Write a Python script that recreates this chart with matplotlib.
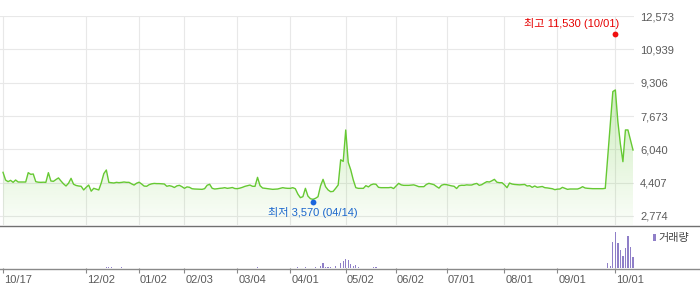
import numpy as np
import matplotlib
matplotlib.use('Agg')
import matplotlib.pyplot as plt
import matplotlib.colors as mcolors
import matplotlib.transforms as mtransforms
from matplotlib.patches import Rectangle, Polygon
from matplotlib.lines import Line2D

plt.rcParams['font.family'] = ['Liberation Sans', 'Noto Sans CJK KR', 'DejaVu Sans']

# ---- data (trading-day index 0 = 10/17) ----
price = [
    4913, 4538, 4456, 4521, 4423, 4538, 4440, 4440, 4440, 4440,
    4897, 4815, 4832, 4456, 4430, 4423, 4430, 4423, 4897, 4489,
    4472, 4560, 4640, 4489, 4350, 4244, 4380, 4619, 4330, 4270,
    4244, 4230, 4050, 4180, 4290, 3990, 4130, 4090, 4050, 4400,
    4850, 5028, 4420, 4407, 4391, 4423, 4407, 4420, 4440, 4423,
    4423, 4350, 4290, 4380, 4430, 4342, 4240, 4230, 4310, 4350,
    4370, 4360, 4360, 4350, 4342, 4230, 4260, 4230, 4170, 4250,
    4276, 4211, 4130, 4200, 4180, 4110, 4097, 4090, 4080, 4080,
    4113, 4280, 4330, 4130, 4097, 4110, 4129, 4140, 4162, 4129,
    4146, 4170, 4120, 4113, 4140, 4178, 4227, 4260, 4290, 4230,
    4227, 4668, 4260, 4146, 4129, 4113, 4097, 4080, 4090, 4097,
    4129, 4162, 4140, 4129, 4129, 4162, 4110, 3850, 3672, 3721,
    4130, 3750, 3620, 3591, 3639, 3720, 4250, 4570, 4210, 4050,
    3965, 3980, 4130, 4293, 5530, 5450, 6988, 5400, 5030, 4540,
    4162, 4129, 4129, 4129, 4260, 4200, 4300, 4342, 4330, 4178,
    4162, 4162, 4162, 4162, 4178, 4120, 4250, 4374, 4300, 4276,
    4276, 4276, 4290, 4300, 4260, 4211, 4211, 4211, 4320, 4374,
    4342, 4310, 4220, 4140, 4280, 4320, 4310, 4280, 4250, 4230,
    4120, 4260, 4280, 4276, 4300, 4290, 4293, 4340, 4370, 4276,
    4310, 4390, 4456, 4440, 4500, 4570, 4430, 4407, 4407, 4300,
    4162, 4390, 4340, 4320, 4309, 4300, 4310, 4320, 4244, 4260,
    4178, 4244, 4180, 4200, 4220, 4162, 4150, 4129, 4110, 4064,
    4090, 4097, 4178, 4130, 4080, 4097, 4097, 4097, 4097, 4140,
    4211, 4146, 4130, 4120, 4113, 4113, 4113, 4113, 4113, 4129,
    5700, 7300, 8870, 8950, 7400, 6300, 5435, 6990, 6990, 6500,
    6007,
]

tick_labels = ['10/17', '12/02', '01/02', '02/03', '03/04', '04/01',
               '05/02', '06/02', '07/01', '08/01', '09/01', '10/01']
tick_days = [0, 33, 54, 72, 93, 114, 136, 156, 176, 199, 220, 243]

y_ticks = [2774, 4407, 6040, 7673, 9306, 10939, 12573]
y_tick_labels = ['2,774', '4,407', '6,040', '7,673', '9,306', '10,939', '12,573']

high_day, high_val, high_label = 243, 11530, '최고 11,530 (10/01)'
low_day, low_val, low_label = 123, 3570, '최저 3,570 (04/14)'

vol_days = [41, 42, 43, 47, 101, 117, 120, 124, 126, 127, 128, 129, 130, 132,
            134, 135, 136, 137, 138, 139, 140, 141, 147, 148,
            240, 241, 242, 243, 244, 245, 246, 247, 248, 249, 250]
vol_vals = [3, 3, 3, 3, 2, 2, 2, 3, 5, 14, 4, 3, 3, 5,
            15, 22, 27, 25, 12, 7, 9, 4, 3, 3,
            15, 7, 79, 109, 75, 55, 37, 60, 97, 65, 33]
vol_legend = '거래량'

# ---- style ----
LINE = '#66c933'
GRID = '#e8e8e8'
VOL = '#8f7fc8'
TXT = '#5a5a5a'

W, H = 700, 289
fig = plt.figure(figsize=(W / 100, H / 100), dpi=100)


def fx(px):
    return px / W


def fy(py):
    return 1 - py / H


days = np.arange(len(price))
xmin, xmax = -1.2, 250.4
ymin, ymax = 2333, 12573

ax = fig.add_axes([0, fy(225), fx(634), (225 - 16) / H])
axv = fig.add_axes([0, fy(268), fx(634), (268 - 226) / H])

# gradient fill under line
rgb = mcolors.to_rgb(LINE)
grad = np.zeros((256, 1, 4))
grad[..., 0], grad[..., 1], grad[..., 2] = rgb
grad[:, 0, 3] = np.linspace(0.03, 0.32, 256)
im = ax.imshow(grad, extent=[xmin, xmax, ymin, max(price)], origin='lower',
               aspect='auto', zorder=1, interpolation='bilinear')
poly = Polygon(np.column_stack([np.r_[days[0], days, days[-1]],
                                np.r_[ymin, price, ymin]]),
               closed=True, facecolor='none', edgecolor='none')
ax.add_patch(poly)
im.set_clip_path(poly)

ax.plot(days, price, color=LINE, lw=1.0, zorder=3, solid_joinstyle='round')

ax.set_xlim(xmin, xmax)
ax.set_ylim(ymin, ymax)
ax.set_xticks(tick_days)
ax.set_yticks(y_ticks)
ax.set_yticklabels(y_tick_labels)
ax.yaxis.tick_right()
ax.tick_params(axis='x', length=0, labelbottom=False)
ax.tick_params(axis='y', length=0, pad=4.5, labelsize=8, labelcolor=TXT)
ax.grid(True, color=GRID, lw=0.8, zorder=0)
ax.set_axisbelow(True)
for s in ax.spines.values():
    s.set_visible(False)

# high / low markers
up = mtransforms.offset_copy(ax.transData, fig=fig, x=0, y=3, units='dots')
dn = mtransforms.offset_copy(ax.transData, fig=fig, x=0, y=-2.5, units='dots')
ax.plot([high_day], [high_val], 'o', color='#f01010', ms=4.2, mew=0,
        transform=up, zorder=5, clip_on=False)
ax.plot([low_day], [low_val], 'o', color='#1a66dd', ms=4.2, mew=0,
        transform=dn, zorder=5, clip_on=False)
ax.annotate(high_label, xy=(high_day, high_val), xytext=(2.6, 9.6),
            textcoords='offset points', ha='right', va='center',
            color='#e60000', fontsize=8)
ax.annotate(low_label, xy=(low_day, low_val), xytext=(0, -9),
            textcoords='offset points', ha='center', va='center',
            color='#1a66cc', fontsize=8, annotation_clip=False)

# volume panel
axv.bar(vol_days, vol_vals, width=0.5, color=VOL, linewidth=0)
axv.set_xlim(xmin, xmax)
axv.set_ylim(0, 128)
axv.set_yticks([])
axv.set_xticks(tick_days)
axv.set_xticklabels(tick_labels, ha='left')
axv.tick_params(axis='x', direction='out', length=3.3, width=0.8,
                color='#888888', pad=1.5, labelsize=8, labelcolor=TXT)
for lab in axv.get_xticklabels():
    lab.set_transform(lab.get_transform() +
                      mtransforms.ScaledTranslation(1 / 100, 0, fig.dpi_scale_trans))
for s in axv.spines.values():
    s.set_visible(False)

# separator lines across full width
fig.add_artist(Line2D([0, 1], [fy(225.5), fy(225.5)], transform=fig.transFigure,
                      color='#707070', lw=1.0))
fig.add_artist(Line2D([0, 1], [fy(268.5), fy(268.5)], transform=fig.transFigure,
                      color='#8a8a8a', lw=1.0))

# volume legend
fig.add_artist(Rectangle((fx(653), fy(241)), fx(2.6), 7 / H,
                         transform=fig.transFigure, color=VOL, lw=0))
fig.text(fx(658), fy(238), vol_legend, fontsize=8, color='#444444', va='center')

fig.savefig('out.png', dpi=100)
